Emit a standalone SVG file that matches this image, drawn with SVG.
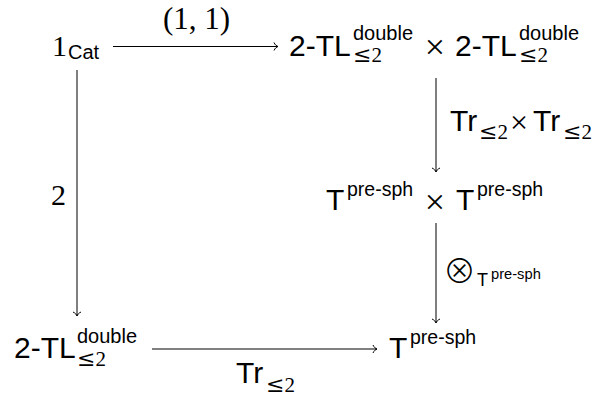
<svg xmlns="http://www.w3.org/2000/svg" width="608" height="398" viewBox="0 0 608 398">
<defs>
<style>
.s{font-family:"Liberation Sans",Arial,sans-serif;fill:#000}
.r{font-family:"Liberation Serif","Times New Roman",serif;fill:#000}
.m{font-size:30px}
.sup{font-size:20px}
.sub{font-size:21px}
.le{font-family:"DejaVu Serif",serif;font-size:22px}
.ps{font-size:19.5px}
.x{font-size:36px}
.e{stroke:#000;stroke-width:1;fill:none}
</style>
<marker id="ah" markerUnits="userSpaceOnUse" markerWidth="12" markerHeight="12" viewBox="-6 -6 12 12" refX="0" refY="0" orient="auto">
<path d="M-4,-4 C-3,-1.6 -1.2,-0.4 0,0 C-1.2,0.4 -3,1.6 -4,4" stroke="#000" stroke-width="1" fill="none"/>
</marker>
</defs>
<rect width="608" height="398" fill="#fff"/>
<g id="n-1cat">
<text class="r m" x="52" y="56">1</text>
<text class="s sup" x="68" y="59">Cat</text>
</g>
<g id="n-tl2">
<text class="s m" x="289" y="55.5">2-TL</text>
<text class="s sup" x="353" y="40">double</text>
<text class="r sub" x="353" y="62"><tspan class="le">≤</tspan>2</text>
<text class="r x" x="435" y="58.5" text-anchor="middle">×</text>
<text class="s m" x="455" y="55.5">2-TL</text>
<text class="s sup" x="519" y="40">double</text>
<text class="r sub" x="519" y="62"><tspan class="le">≤</tspan>2</text>
</g>
<g id="n-tt">
<text class="s m" x="326" y="210">T</text>
<text class="s ps" x="347" y="196">pre-sph</text>
<text class="r x" x="435" y="213.5" text-anchor="middle">×</text>
<text class="s m" x="456" y="210">T</text>
<text class="s ps" x="477" y="196">pre-sph</text>
</g>
<g id="n-tl">
<text class="s m" x="14" y="358">2-TL</text>
<text class="s sup" x="77" y="343">double</text>
<text class="r sub" x="77" y="366"><tspan class="le">≤</tspan>2</text>
</g>
<g id="n-t">
<text class="s m" x="389" y="358">T</text>
<text class="s ps" x="410" y="344">pre-sph</text>
</g>
<g id="connectors">
<line class="e" x1="113" y1="46.5" x2="278" y2="46.5" marker-end="url(#ah)"/>
<line class="e" x1="77" y1="70" x2="77" y2="316" marker-end="url(#ah)"/>
<line class="e" x1="436" y1="78" x2="436" y2="172" marker-end="url(#ah)"/>
<line class="e" x1="436" y1="223" x2="436" y2="323" marker-end="url(#ah)"/>
<line class="e" x1="152" y1="349" x2="377" y2="349" marker-end="url(#ah)"/>
<text class="r" style="font-size:31px" x="163" y="29" textLength="67">(1, 1)</text>
<text class="r m" x="51" y="205">2</text>
<text class="s m" x="450" y="131">Tr</text>
<text class="r sub" x="479" y="139"><tspan class="le">≤</tspan>2</text>
<text class="r" style="font-size:32px" x="519" y="133" text-anchor="middle">×</text>
<text class="s m" x="533" y="131">Tr</text>
<text class="r sub" x="563" y="139"><tspan class="le">≤</tspan>2</text>
<text class="s" x="443" y="282.5"><tspan style="font-family:'Noto Sans CJK JP','DejaVu Sans',sans-serif;font-weight:300;font-size:33px">⊗</tspan><tspan x="477" y="286" style="font-size:18px">T</tspan><tspan x="491" y="279" style="font-size:14.7px">pre-sph</tspan></text>
<text class="s m" x="236" y="383">Tr</text>
<text class="r sub" x="266" y="392"><tspan class="le">≤</tspan>2</text>
</g>
</svg>
